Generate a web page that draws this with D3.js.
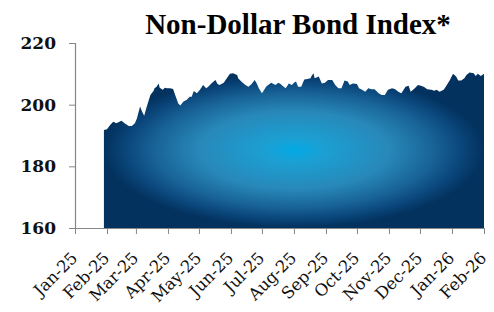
<!DOCTYPE html>
<html>
<head>
<meta charset="utf-8">
<script src="https://cdn.jsdelivr.net/npm/d3@7/dist/d3.min.js"></script>
<style>
  html, body { margin: 0; padding: 0; background: #fff; }
  svg { display: block; }
</style>
</head>
<body>
<div id="chart"></div>
<script>
"use strict";

/* ── Data ── */
const chartTitle = "Non-Dollar Bond Index*";

const dates = [
  "2025-01-29","2025-02-01","2025-02-04","2025-02-07","2025-02-10","2025-02-15","2025-02-18","2025-02-22",
  "2025-02-25","2025-02-28","2025-03-02","2025-03-05","2025-03-07","2025-03-09","2025-03-11","2025-03-15",
  "2025-03-18","2025-03-19","2025-03-21","2025-03-23","2025-03-24","2025-03-27","2025-03-29","2025-03-31",
  "2025-04-03","2025-04-06","2025-04-08","2025-04-11","2025-04-13","2025-04-16","2025-04-19","2025-04-22",
  "2025-04-24","2025-04-26","2025-04-29","2025-05-02","2025-05-05","2025-05-08","2025-05-10","2025-05-13",
  "2025-05-17","2025-05-19","2025-05-21","2025-05-25","2025-05-28","2025-05-31","2025-06-03","2025-06-07",
  "2025-06-08","2025-06-11","2025-06-15","2025-06-18","2025-06-21","2025-06-24","2025-06-26","2025-06-28",
  "2025-07-01","2025-07-02","2025-07-05","2025-07-07","2025-07-10","2025-07-14","2025-07-17","2025-07-19",
  "2025-07-22","2025-07-24","2025-07-27","2025-07-30","2025-08-01","2025-08-03","2025-08-05","2025-08-08",
  "2025-08-11","2025-08-14","2025-08-17","2025-08-18","2025-08-20","2025-08-21","2025-08-25","2025-08-28",
  "2025-08-31","2025-09-03","2025-09-07","2025-09-10","2025-09-13","2025-09-16","2025-09-19","2025-09-22",
  "2025-09-24","2025-09-27","2025-10-01","2025-10-03","2025-10-06","2025-10-09","2025-10-12","2025-10-15",
  "2025-10-18","2025-10-22","2025-10-25","2025-10-28","2025-10-31","2025-11-04","2025-11-07","2025-11-10",
  "2025-11-13","2025-11-17","2025-11-20","2025-11-22","2025-11-26","2025-11-29","2025-12-02","2025-12-05",
  "2025-12-08","2025-12-12","2025-12-15","2025-12-17","2025-12-20","2025-12-24","2025-12-27","2025-12-30",
  "2026-01-02","2026-01-05","2026-01-07","2026-01-10","2026-01-13","2026-01-15","2026-01-18","2026-01-22",
  "2026-01-24","2026-01-26","2026-01-29","2026-02-01"
];

const indexValues = [
  191.8,192.0,193.4,194.5,194.0,194.8,194.0,193.1,
  193.1,194.0,195.6,199.4,197.7,196.4,198.8,203.1,
  204.4,205.3,205.8,206.9,205.5,204.8,205.5,205.3,
  205.3,205.1,203.1,200.4,199.7,201.0,201.5,202.6,
  202.6,204.4,203.7,204.8,206.4,205.3,205.8,206.9,
  208.0,206.7,206.4,207.1,208.6,210.0,210.2,209.6,
  208.6,207.5,206.4,205.8,206.7,208.0,206.9,205.3,
  203.7,204.2,205.8,206.4,207.1,206.4,207.1,206.7,
  205.8,205.3,206.9,206.4,207.1,207.5,205.8,205.8,
  208.2,208.3,208.6,209.3,210.2,208.6,209.1,206.9,
  207.1,208.0,208.0,206.4,205.3,205.3,207.8,207.5,
  206.4,206.9,206.7,205.3,204.8,204.2,205.3,205.0,
  205.0,203.7,203.1,203.1,204.8,205.3,205.0,204.2,
  203.7,205.8,206.1,204.2,205.3,206.4,206.1,205.7,
  205.0,204.8,204.5,204.8,204.2,204.8,206.4,208.0,
  210.0,209.1,207.8,207.8,208.6,209.6,210.4,210.2,
  209.3,210.0,209.3,210.0
];

const yTicks = [160, 180, 200, 220];
const xTickMonths = ["2025-01-01","2025-02-01","2025-03-01","2025-04-01","2025-05-01","2025-06-01","2025-07-01",
  "2025-08-01","2025-09-01","2025-10-01","2025-11-01","2025-12-01","2026-01-01","2026-02-01"];

/* ── Dimensions ── */
const W = 494, H = 312;
const margin = { top: 43, right: 10, bottom: 84, left: 75 };

const parse = d3.timeParse("%Y-%m-%d");
const series = dates.map((d, i) => ({ date: parse(d), value: indexValues[i] }));
const monthTicks = xTickMonths.map(parse);

const svg = d3.select("#chart").append("svg")
  .attr("width", W).attr("height", H);

/* ── Scales ── */
const x = d3.scaleTime()
  .domain([monthTicks[0], monthTicks[monthTicks.length - 1]])
  .range([margin.left, 484]);

const y = d3.scaleLinear()
  .domain([160, 220])
  .range([H - margin.bottom, margin.top]);

/* ── Gradient fill ── */
const defs = svg.append("defs");
const grad = defs.append("radialGradient")
  .attr("id", "areaGrad")
  .attr("cx", "50%").attr("cy", "50%").attr("r", "50%");
[
  [0.00, "#02aae6"],
  [0.15, "#1ba0d3"],
  [0.50, "#2888b9"],
  [0.74, "#186296"],
  [0.90, "#094377"],
  [1.00, "#03325e"]
].forEach(([o, c]) => grad.append("stop").attr("offset", o).attr("stop-color", c));

/* ── Area ── */
const area = d3.area()
  .x(d => x(d.date))
  .y0(y(160))
  .y1(d => y(d.value));

svg.append("path")
  .datum(series)
  .attr("d", area)
  .attr("fill", "url(#areaGrad)");

/* ── Y axis ── */
svg.append("g")
  .attr("transform", `translate(${margin.left},0)`)
  .call(d3.axisLeft(y).tickValues(yTicks).tickSize(6).tickPadding(13).tickFormat(d3.format("d")))
  .call(g => {
    g.select(".domain").attr("stroke", "#868686").attr("stroke-width", 1.2);
    g.selectAll(".tick line").attr("stroke", "#868686");
    g.selectAll(".tick text")
      .attr("fill", "#111")
      .attr("font-family", "'DejaVu Serif', serif")
      .attr("font-weight", "bold")
      .attr("font-size", "17px");
  });

/* ── X axis ── */
svg.append("g")
  .attr("transform", `translate(0,${y(160)})`)
  .call(d3.axisBottom(x).tickValues(monthTicks).tickSize(6).tickSizeOuter(0).tickFormat(d3.timeFormat("%b-%y")))
  .call(g => {
    g.select(".domain").attr("stroke", "#868686").attr("stroke-width", 1.2);
    g.selectAll(".tick line").attr("stroke", "#868686");
    g.selectAll(".tick text")
      .attr("fill", "#111")
      .attr("font-family", "'DejaVu Serif', serif")
      .attr("font-size", "16.5px")
      .attr("text-anchor", "end")
      .attr("dy", 0)
      .attr("y", 0)
      .attr("transform", "translate(3,31) rotate(-45)");
  });

/* ── Title ── */
svg.append("text")
  .attr("x", 298)
  .attr("y", 34)
  .attr("text-anchor", "middle")
  .attr("font-family", "'Liberation Serif', serif")
  .attr("font-weight", "bold")
  .attr("font-size", "29px")
  .attr("fill", "#000")
  .text(chartTitle);
</script>
</body>
</html>
